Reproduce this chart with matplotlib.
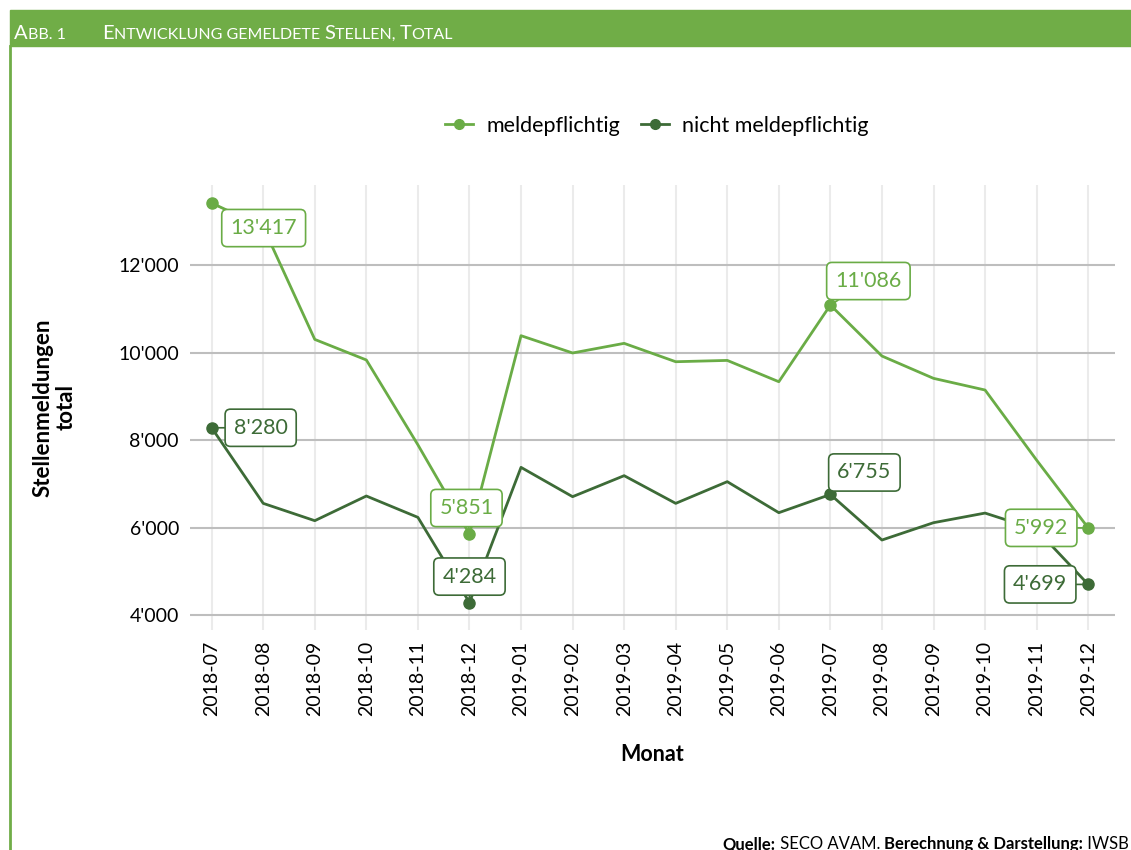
import matplotlib
matplotlib.use("Agg")
import matplotlib.pyplot as plt
from matplotlib.lines import Line2D
from matplotlib.patches import Rectangle
import numpy as np

# ---------------------------------------------------------------------------
# Data
# ---------------------------------------------------------------------------
months = ["2018-07", "2018-08", "2018-09", "2018-10", "2018-11", "2018-12",
          "2019-01", "2019-02", "2019-03", "2019-04", "2019-05", "2019-06",
          "2019-07", "2019-08", "2019-09", "2019-10", "2019-11", "2019-12"]
meldepflichtig = [13417, 12870, 10300, 9830, 7890, 5851,
                  10385, 9990, 10210, 9790, 9820, 9333,
                  11086, 9920, 9410, 9143, 7540, 5992]
nicht_meldepflichtig = [8280, 6552, 6156, 6720, 6232, 4284,
                        7375, 6705, 7185, 6552, 7048, 6339,
                        6755, 5714, 6110, 6330, 5950, 4699]
labelled_idx = [0, 5, 12, 17]
y_ticks = [4000, 6000, 8000, 10000, 12000]

LIGHT = "#6aac46"
DARK = "#3d6b37"
HEADER = "#70ad47"
FONT = "Lato"

plt.rcParams["font.family"] = [FONT, "DejaVu Sans"]


def fmt(v):
    return f"{v:,}".replace(",", "'")


def draw_runs(fig, pieces, x, y, color, align="left"):
    """Draw text pieces one after another, starting at pixel (x, y)."""
    r = fig.canvas.get_renderer()
    W, H = fig.bbox.width, fig.bbox.height
    texts = []
    widths = []
    for s, size, weight in pieces:
        t = fig.text(0, y / H, s, fontsize=size, fontweight=weight,
                     color=color, va="baseline", ha="left")
        texts.append(t)
        widths.append(t.get_window_extent(r).width)
    if align == "right":
        x = x - sum(widths)
    for t, w in zip(texts, widths):
        t.set_x(x / W)
        x += w


fig = plt.figure(figsize=(11.31, 8.5), dpi=100)
W, H = 1131, 850

# header bar and frame line
fig.patches.append(Rectangle((10 / W, 1 - 46 / H), 1 - 10 / W, 36 / H,
                             transform=fig.transFigure, color=HEADER, zorder=0))
fig.add_artist(Line2D([10 / W, 10 / W], [0, 1 - 46 / H], color=HEADER, lw=2,
                      transform=fig.transFigure))

title = [("A", 14.5, "normal"), ("BB. 1", 11.5, "normal"), ("         ", 11.5, "normal"),
         ("E", 14.5, "normal"), ("NTWICKLUNG GEMELDETE ", 11.5, "normal"),
         ("S", 14.5, "normal"), ("TELLEN, ", 11.5, "normal"),
         ("T", 14.5, "normal"), ("OTAL", 11.5, "normal")]
draw_runs(fig, title, 14, H - 39, "white")

ax = fig.add_axes([190 / W, 1 - 630 / H, (1115 - 190) / W, (630 - 185) / H])
x = np.arange(len(months))

ax.plot(x, meldepflichtig, color=LIGHT, lw=2, zorder=3)
ax.plot(x, nicht_meldepflichtig, color=DARK, lw=2, zorder=3)
ax.plot(x[labelled_idx], np.array(meldepflichtig)[labelled_idx], "o",
        color=LIGHT, ms=8, zorder=4)
ax.plot(x[labelled_idx], np.array(nicht_meldepflichtig)[labelled_idx], "o",
        color=DARK, ms=8, zorder=4)

# value labels (offsets in pixels)
offsets_light = {0: (52, -25), 5: (-3, 26), 12: (38, 24), 17: (-47, 0)}
offsets_dark = {0: (49, 0), 5: (0, 26), 12: (34, 22), 17: (-48, 0)}
for series, offs, col in [(meldepflichtig, offsets_light, LIGHT),
                          (nicht_meldepflichtig, offsets_dark, DARK)]:
    for i in labelled_idx:
        ax.annotate(fmt(series[i]), (x[i], series[i]), xytext=offs[i],
                    textcoords="offset pixels", ha="center", va="center",
                    fontsize=15.5, color=col, zorder=6,
                    bbox=dict(boxstyle="round,pad=0.4,rounding_size=0.25",
                              fc="white", ec=col, lw=1.2),
                    arrowprops=dict(arrowstyle="-", color=col, lw=1.2,
                                    shrinkA=0, shrinkB=4))

ax.set_xlim(-0.42, 17.52)
ax.set_ylim(3657, 13830)
ax.set_xticks(x)
ax.set_xticklabels(months, rotation=90, fontsize=14)
ax.set_yticks(y_ticks)
ax.set_yticklabels([fmt(v) for v in y_ticks], fontsize=14)
ax.tick_params(length=0, pad=8, colors="black")
ax.grid(axis="x", color="#ebebeb", lw=1.5, zorder=0)
ax.grid(axis="y", color="#bebebe", lw=1.5, zorder=1)
ax.set_axisbelow(True)
for s in ax.spines.values():
    s.set_visible(False)

ax.set_ylabel("Stellenmeldungen\ntotal", fontsize=16, fontweight="bold",
              labelpad=30, linespacing=1.1)
ax.set_xlabel("Monat", fontsize=15.5, fontweight="bold", labelpad=20)

handles = [Line2D([], [], color=LIGHT, lw=2, marker="o", ms=7),
           Line2D([], [], color=DARK, lw=2, marker="o", ms=7)]
fig.legend(handles, ["meldepflichtig", "nicht meldepflichtig"],
           loc="center", bbox_to_anchor=(657 / W, 1 - 126 / H), ncol=2,
           frameon=False, fontsize=15.5, handlelength=1.3, columnspacing=1.0,
           handletextpad=0.6)

source = [("Quelle:", 12, "bold"), (" SECO AVAM. ", 12, "normal"),
          ("Berechnung & Darstellung:", 12, "bold"), (" IWSB", 12, "normal")]
draw_runs(fig, source, 1129, 1, "black", align="right")

fig.savefig("out.png", dpi=100)
